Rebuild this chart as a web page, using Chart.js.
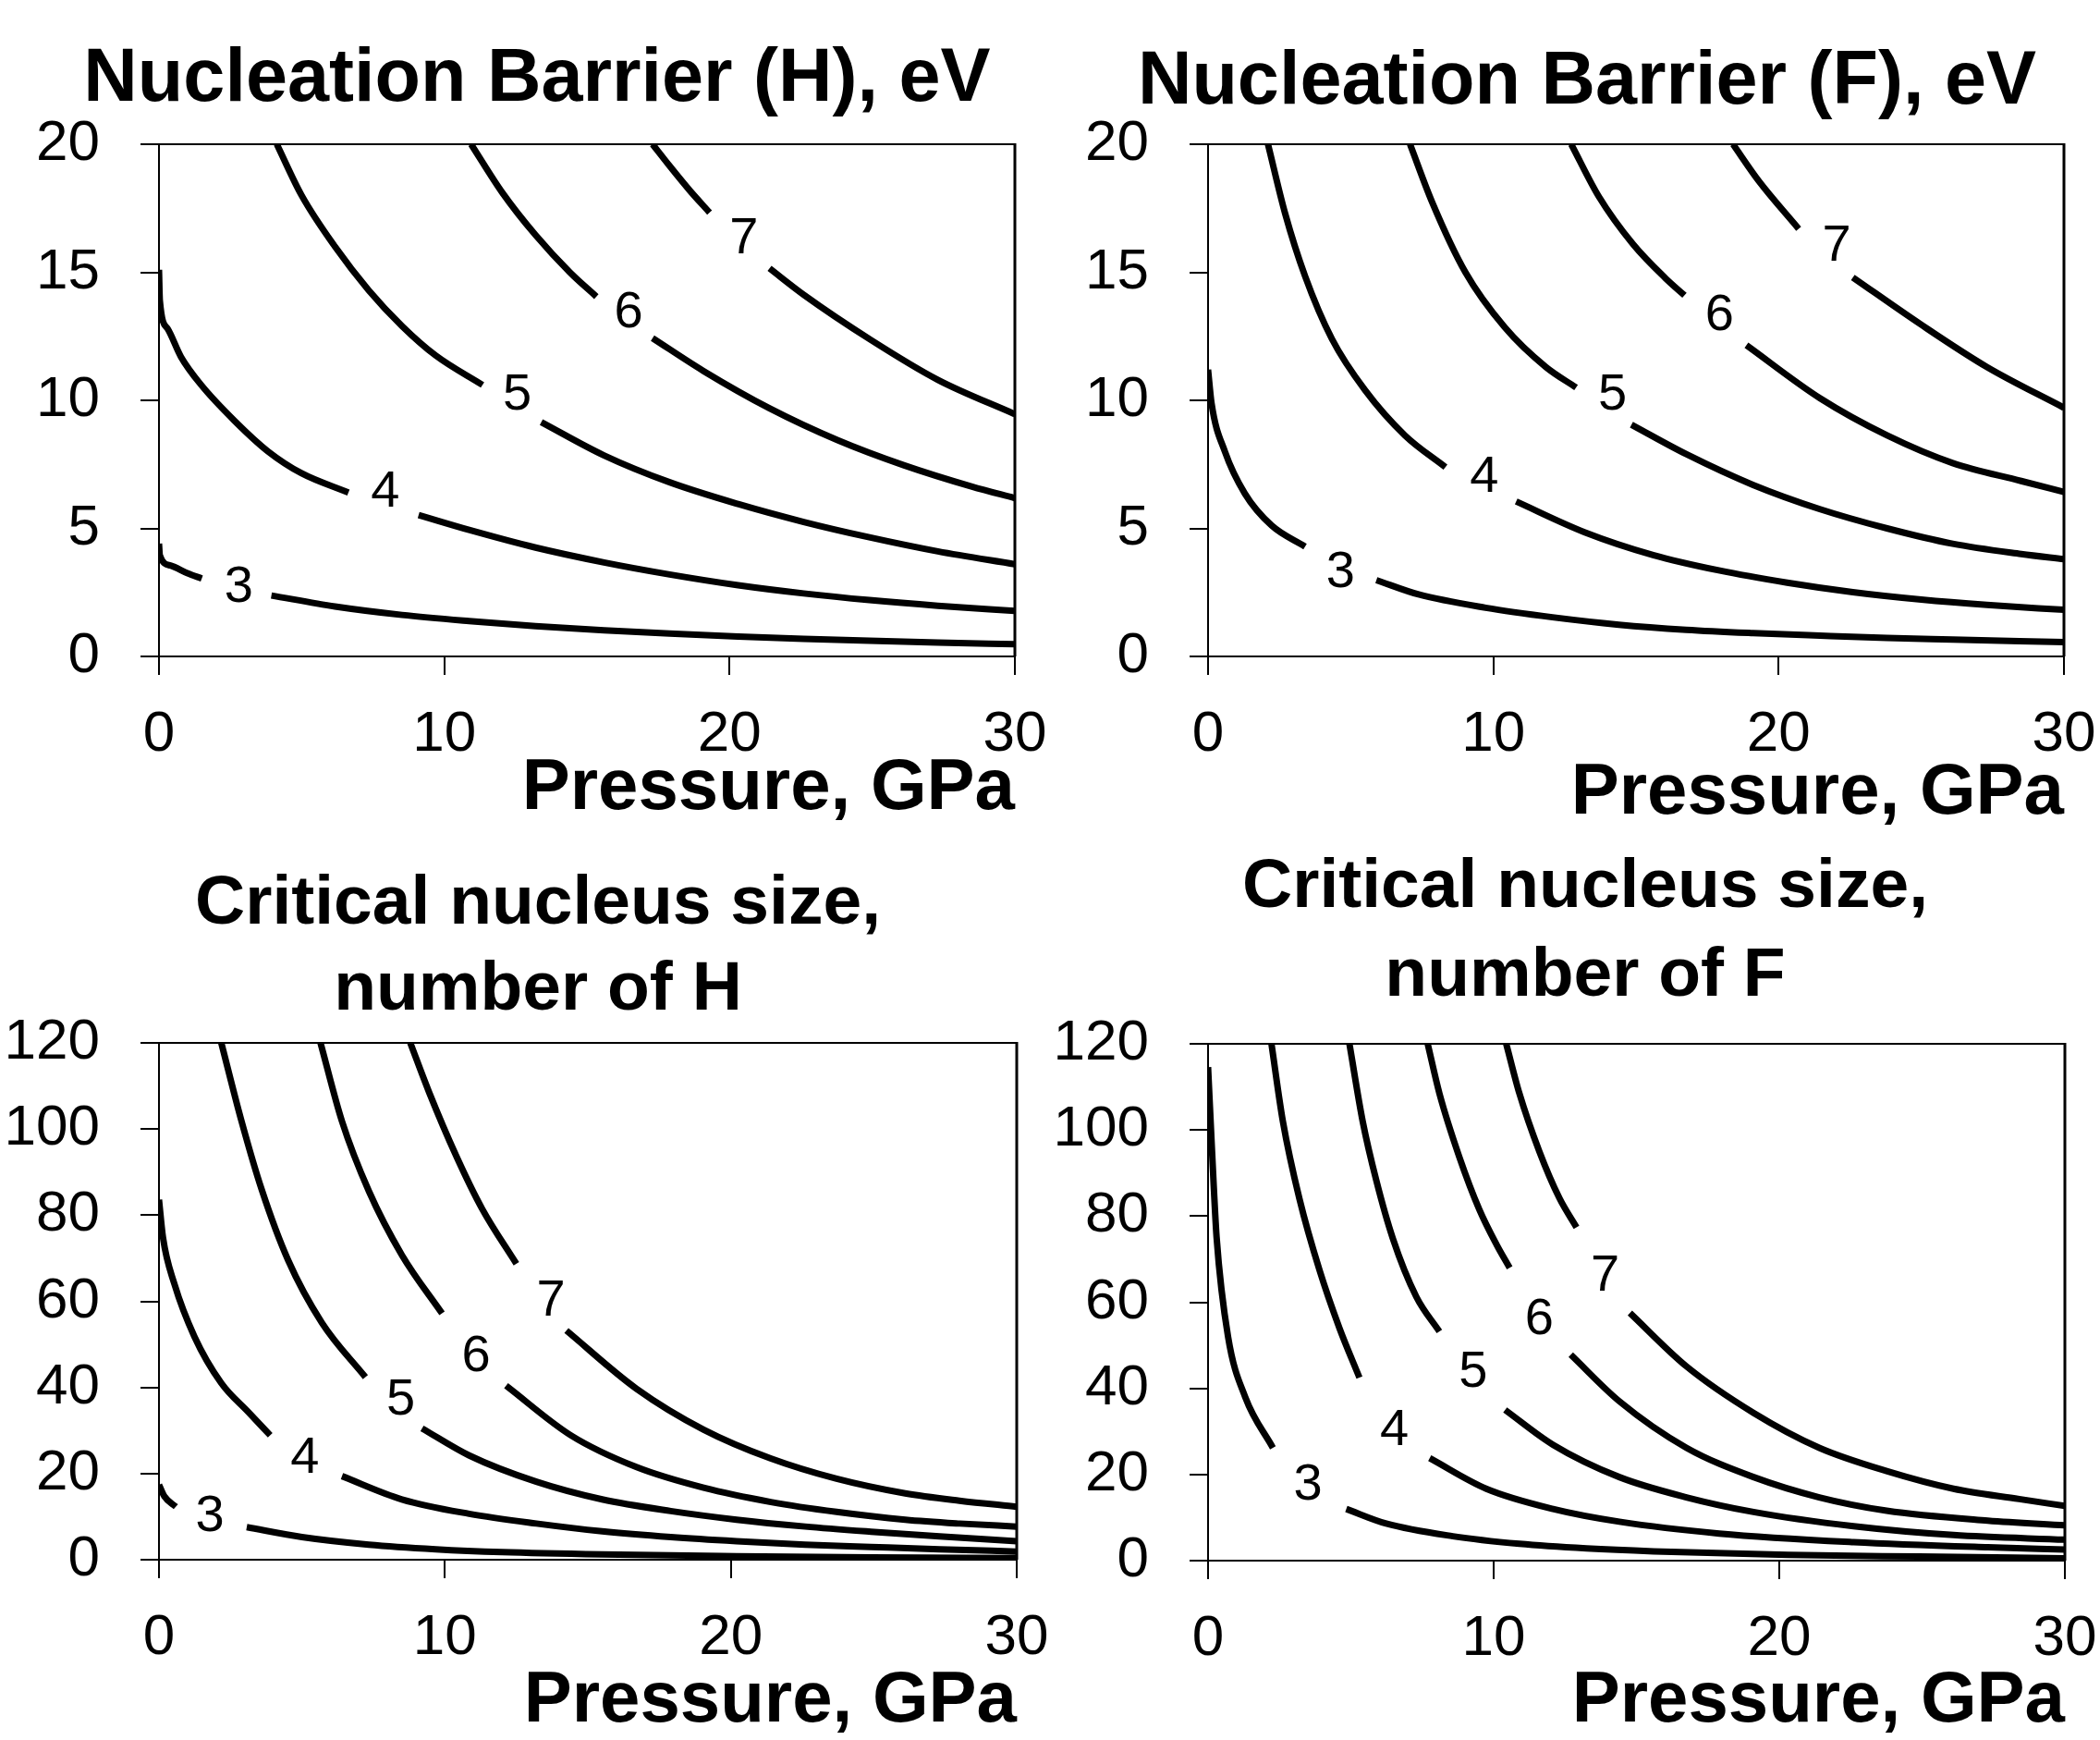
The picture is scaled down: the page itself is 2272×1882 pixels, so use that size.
<!DOCTYPE html>
<html>
<head>
<meta charset="utf-8">
<title>Nucleation barrier and critical nucleus size</title>
<script src="https://cdn.jsdelivr.net/npm/chart.js@4.4.1/dist/chart.umd.min.js"></script>
<style>
  html, body { margin: 0; padding: 0; background: #fff; }
  body { width: 2272px; height: 1882px; position: relative; overflow: hidden; }
  canvas { position: absolute; }
</style>
</head>
<body>
<canvas id="barrierH" width="1136" height="900" style="left:0px;top:0px"></canvas>
<canvas id="barrierF" width="1136" height="900" style="left:1136px;top:0px"></canvas>
<canvas id="sizeH" width="1136" height="982" style="left:0px;top:900px"></canvas>
<canvas id="sizeF" width="1136" height="982" style="left:1136px;top:900px"></canvas>
<script>
// contour levels, one curve per level
const levels = ["3", "4", "5", "6", "7"];

const pressureTicks = [0, 10, 20, 30];
const barrierTicks = [0, 5, 10, 15, 20];
const sizeTicks = [0, 20, 40, 60, 80, 100, 120];

// null in a y list = break in the line where the level number sits

// Nucleation Barrier (H), eV
const barrierHX = [
  [0, 0.03, 0.4, 1.0, 1.5, 2.8, 3.94, 6.17, 8.52, 10.87, 13.2, 15.6, 17.9, 20.3, 22.6, 24.9, 27.3, 30],
  [0, 0.03, 0.3, 0.77, 1.48, 2.65, 3.83, 5.0, 6.64, 7.9, 9.1, 10.9, 13.2, 15.6, 17.9, 20.3, 22.6, 24.9, 27.3, 30],
  [4.13, 5.0, 6.17, 7.35, 8.52, 9.7, 11.34, 12.5, 13.4, 15.6, 17.9, 20.3, 22.6, 24.9, 27.3, 30],
  [10.94, 12.04, 13.2, 14.4, 15.33, 16.4, 17.3, 19.08, 21.4, 23.8, 26.1, 28.5, 30],
  [17.3, 17.9, 18.6, 19.3, 20.5, 21.4, 22.6, 24.95, 27.3, 30]
];
const barrierHY = [
  [4.4, 3.95, 3.55, 3.25, 3.04, null, 2.38, 1.95, 1.62, 1.38, 1.18, 1.02, 0.89, 0.78, 0.69, 0.61, 0.54, 0.48],
  [15.1, 13.9, 12.8, 11.7, 10.6, 9.2, 8.0, 7.15, 6.4, null, 5.52, 4.93, 4.25, 3.67, 3.2, 2.78, 2.46, 2.2, 1.98, 1.78],
  [20, 18.0, 16.0, 14.3, 12.9, 11.75, 10.6, null, 9.15, 7.85, 6.8, 5.95, 5.25, 4.65, 4.1, 3.6],
  [20, 18.1, 16.45, 15.0, 14.05, null, 12.43, 11.15, 9.69, 8.44, 7.47, 6.63, 6.18],
  [20, 19.15, 18.2, 17.33, null, 15.15, 14.12, 12.36, 10.8, 9.46]
];
const barrierHLabelX = [2.8, 7.93, 12.56, 16.46, 20.5];
const barrierHLabelY = [2.7, 6.4, 10.2, 13.4, 16.3];

// Nucleation Barrier (F), eV
const barrierFX = [
  [0, 0.12, 0.59, 1.29, 2.23, 3.4, 4.6, 5.9, 7.38, 9.73, 12.07, 14.4, 16.76, 19.1, 21.45, 23.8, 26.1, 30],
  [2.1, 2.7, 3.4, 4.34, 5.5, 6.9, 8.32, 9.7, 10.8, 13.2, 15.6, 17.9, 20.3, 22.6, 25, 27.3, 30],
  [7.08, 7.85, 9.02, 10.4, 11.84, 12.9, 14.2, 14.84, 16.76, 19.1, 21.45, 23.8, 26.1, 28.5, 30],
  [12.73, 13.7, 14.9, 16.05, 16.7, 17.9, 18.87, 21.45, 23.8, 26.1, 28.5, 30],
  [18.4, 19.3, 20.7, 22.0, 22.6, 24.96, 27.3, 30]
];
const barrierFY = [
  [11.2, 9.9, 8.0, 6.36, 5.11, 4.29, null, 2.98, 2.42, 1.9, 1.53, 1.24, 1.04, 0.91, 0.81, 0.72, 0.66, 0.56],
  [20, 17.3, 14.85, 12.4, 10.4, 8.63, 7.39, null, 6.05, 4.85, 3.96, 3.36, 2.88, 2.51, 2.22, 2.01, 1.82],
  [20, 17.75, 15.0, 12.85, 11.3, 10.5, null, 9.05, 7.9, 6.7, 5.75, 5.0, 4.4, 4.0, 3.8],
  [20, 17.95, 16.09, 14.75, 14.1, null, 12.15, 10.08, 8.63, 7.55, 6.85, 6.42],
  [20, 18.57, 16.7, null, 14.8, 12.98, 11.3, 9.71]
];
const barrierFLabelX = [4.64, 9.68, 14.18, 17.93, 22.03];
const barrierFLabelY = [3.25, 7.0, 10.2, 13.3, 16.0];

// Critical nucleus size, number of H
const sizeHX = [
  [0, 0.19, 0.59, 1.78, 3.07, 5.0, 7.34, 9.68, 12.0, 15.5, 20.2, 24.9, 30],
  [0, 0.14, 0.54, 1.24, 2.18, 3.12, 3.89, 5.1, 6.4, 8.5, 10.85, 13.2, 15.5, 17.9, 20.2, 22.6, 24.9, 27.3, 30],
  [2.18, 2.88, 3.59, 4.52, 5.7, 7.22, 8.46, 9.2, 10.85, 13.2, 15.5, 17.9, 20.2, 22.6, 24.9, 27.3, 30],
  [5.65, 6.4, 7.34, 8.5, 9.9, 11.1, 12.14, 14.4, 16.7, 19.05, 21.4, 23.7, 26.1, 28, 30],
  [8.79, 9.45, 10.4, 11.3, 12.5, 13.7, 14.25, 16.7, 19.05, 21.4, 23.7, 26.1, 28, 30]
];
const sizeHY = [
  [17.4, 14.7, 12.3, null, 7.56, 5.26, 3.5, 2.43, 1.75, 1.21, 0.81, 0.54, 0.4],
  [83.6, 74.8, 64, 51.8, 41, 34.3, 28.9, null, 19.4, 14.0, 10.66, 8.4, 6.6, 5.26, 4.3, 3.5, 2.97, 2.43, 1.9],
  [120, 102, 86, 69.5, 55, 42.4, null, 30.5, 24.2, 18.1, 14.0, 11.3, 9.3, 7.7, 6.5, 5.4, 4.3],
  [120, 101.8, 85.6, 70.7, 57.2, null, 40.4, 28.9, 21.5, 16.7, 13.4, 11.1, 9.3, 8.4, 7.7],
  [120, 108.5, 93.7, 81.5, 68.7, null, 53.2, 39.7, 30.2, 23.5, 18.8, 15.4, 13.7, 12.3]
];
const sizeHLabelX = [1.78, 5.1, 8.46, 11.09, 13.71];
const sizeHLabelY = [10.0, 23.5, 37, 47.1, 59.9];

// Critical nucleus size, number of F
const sizeFX = [
  [0, 0.14, 0.3, 0.7, 1.3, 2.27, 3.5, 4.84, 6.24, 8.57, 10.9, 13.25, 15.6, 20.3, 24.9, 30],
  [2.22, 2.62, 3.2, 3.9, 4.6, 5.3, 6.5, 7.76, 9.74, 12.08, 14.4, 17.9, 22.6, 27.3, 30],
  [4.95, 5.42, 5.89, 6.47, 7.29, 8.1, 9.3, 10.4, 12.08, 14.4, 16.75, 19.1, 22.6, 26.1, 30],
  [7.69, 8.1, 8.8, 9.5, 10.1, 10.56, 11.6, 12.7, 14.4, 16.75, 19.1, 21.4, 23.76, 27.3, 30],
  [10.44, 10.9, 11.6, 12.3, 12.9, 13.9, 14.77, 16.75, 19.1, 21.4, 23.76, 26.1, 28.4, 30]
];
const sizeFY = [
  [114.6, 95, 75, 52, 38, 26.2, null, 12.0, 8.6, 5.67, 3.9, 2.83, 2.16, 1.35, 0.94, 0.54],
  [120, 102, 84, 67.5, 54, 42.5, null, 23.8, 16.7, 12.0, 9.04, 6.3, 4.3, 3.1, 2.6],
  [120, 101.8, 88.3, 74.8, 61.3, 53.2, null, 35, 26.9, 19.4, 14.7, 11.3, 8.0, 5.94, 4.86],
  [120, 108.5, 93.7, 81.5, 73.4, 68, null, 47.8, 37, 26.2, 19.4, 14.7, 11.6, 9.3, 8.2],
  [120, 108.5, 95, 84.2, 77.4, null, 57.5, 45.1, 34.3, 26.2, 20.8, 16.7, 14.3, 12.7]
];
const sizeFLabelX = [3.5, 6.52, 9.28, 11.6, 13.9];
const sizeFLabelY = [17.4, 30.2, 43.7, 55.9, 66];

const FONT = "'Liberation Sans', Arial, sans-serif";

// panel heading, placed by hand because the y labels hang left of the layout box
const headingPlugin = {
  id: "heading",
  afterDraw(chart, args, opts) {
    const ctx = chart.ctx;
    ctx.save();
    ctx.fillStyle = "#000";
    ctx.font = "bold " + opts.size + "px " + FONT;
    ctx.textAlign = "center";
    ctx.textBaseline = "alphabetic";
    opts.lines.forEach((line, i) => ctx.fillText(line, opts.cx, opts.baselines[i]));
    ctx.restore();
  }
};

// top and right edges of the plot box
const framePlugin = {
  id: "frame",
  afterDraw(chart) {
    const { ctx, chartArea: a } = chart;
    ctx.save();
    ctx.strokeStyle = "#000";
    ctx.lineWidth = 2;
    ctx.beginPath();
    ctx.moveTo(a.left, a.top);
    ctx.lineTo(a.right, a.top);
    ctx.stroke();
    ctx.lineWidth = 3;
    ctx.beginPath();
    ctx.moveTo(a.right, a.top - 1);
    ctx.lineTo(a.right, a.bottom);
    ctx.stroke();
    ctx.restore();
  }
};

// level numbers written into the gaps of the curves
const contourLabelPlugin = {
  id: "contourLabels",
  afterDatasetsDraw(chart, args, opts) {
    const { ctx, scales } = chart;
    ctx.save();
    ctx.fillStyle = "#000";
    ctx.font = "56px " + FONT;
    ctx.textAlign = "center";
    ctx.textBaseline = "middle";
    for (let i = 0; i < levels.length; i++) {
      const px = scales.x.getPixelForValue(opts.xs[i]);
      const py = scales.y.getPixelForValue(opts.ys[i]);
      ctx.fillText(levels[i], px, py);
    }
    ctx.restore();
  }
};

function makeDatasets(xs, ys) {
  return xs.map((xRow, i) => ({
    label: levels[i],
    data: xRow.map((x, j) => ({ x: x, y: ys[i][j] })),
    borderColor: "#000",
    borderWidth: 7,
    pointRadius: 0,
    cubicInterpolationMode: "monotone",
    spanGaps: false
  }));
}

function buildPanel(id, p) {
  new Chart(document.getElementById(id), {
    type: "line",
    data: { datasets: makeDatasets(p.xs, p.ys) },
    options: {
      responsive: false,
      animation: false,
      devicePixelRatio: 1,
      events: [],
      layout: { padding: { left: 0, right: p.padRight, top: p.padTop, bottom: 0 } },
      plugins: {
        legend: { display: false },
        tooltip: { enabled: false },
        title: { display: false },
        heading: { lines: p.title, size: p.titleSize, cx: p.titleX, baselines: p.titleBase },
        contourLabels: { xs: p.labelX, ys: p.labelY }
      },
      scales: {
        x: {
          type: "linear",
          min: 0,
          max: 30,
          afterBuildTicks: s => { s.ticks = pressureTicks.map(v => ({ value: v })); },
          afterFit: s => { s.height = p.xHeight; },
          border: { display: true, color: "#000", width: 2 },
          grid: { drawOnChartArea: false, drawTicks: true, tickLength: 20, color: "#000", lineWidth: 2 },
          ticks: {
            color: "#000",
            padding: 0,
            maxRotation: 0,
            autoSkip: false,
            // tall line box pushes the labels down instead of tick padding,
            // which would otherwise widen the right margin
            font: { family: FONT, size: 62, lineHeight: 2.1 }
          },
          title: {
            display: true,
            text: "Pressure, GPa",
            align: "end",
            color: "#000",
            font: { family: FONT, size: 78, weight: "bold", lineHeight: 1 },
            padding: { top: 0, bottom: p.xTitleBottom }
          }
        },
        y: {
          type: "linear",
          min: 0,
          max: p.yMax,
          afterBuildTicks: s => { s.ticks = p.yTicks.map(v => ({ value: v })); },
          afterFit: s => { s.width = p.yWidth; },
          border: { display: true, color: "#000", width: 2 },
          grid: { drawOnChartArea: false, drawTicks: true, tickLength: 20, color: "#000", lineWidth: 2 },
          ticks: {
            color: "#000",
            padding: 44,
            autoSkip: false,
            font: { family: FONT, size: 62, lineHeight: 1.2 }
          }
        }
      }
    },
    plugins: [framePlugin, contourLabelPlugin, headingPlugin]
  });
}

buildPanel("barrierH", {
  xs: barrierHX, ys: barrierHY, labelX: barrierHLabelX, labelY: barrierHLabelY,
  title: ["Nucleation Barrier (H), eV"], titleSize: 81, titleX: 581, titleBase: [109],
  padTop: 156, yMax: 20, yTicks: barrierTicks, yWidth: 172, padRight: 38, xHeight: 190, xTitleBottom: 8
});
buildPanel("barrierF", {
  xs: barrierFX, ys: barrierFY, labelX: barrierFLabelX, labelY: barrierFLabelY,
  title: ["Nucleation Barrier (F), eV"], titleSize: 81, titleX: 581, titleBase: [112],
  padTop: 156, yMax: 20, yTicks: barrierTicks, yWidth: 171, padRight: 39, xHeight: 190, xTitleBottom: 3
});
buildPanel("sizeH", {
  xs: sizeHX, ys: sizeHY, labelX: sizeHLabelX, labelY: sizeHLabelY,
  title: ["Critical nucleus size,", "number of H"], titleSize: 75, titleX: 582, titleBase: [99, 192],
  padTop: 228, yMax: 120, yTicks: sizeTicks, yWidth: 172, padRight: 36, xHeight: 195, xTitleBottom: 3
});
buildPanel("sizeF", {
  xs: sizeFX, ys: sizeFY, labelX: sizeFLabelX, labelY: sizeFLabelY,
  title: ["Critical nucleus size,", "number of F"], titleSize: 75, titleX: 579, titleBase: [81, 177],
  padTop: 229, yMax: 120, yTicks: sizeTicks, yWidth: 171, padRight: 38, xHeight: 194, xTitleBottom: 3
});
</script>
</body>
</html>
